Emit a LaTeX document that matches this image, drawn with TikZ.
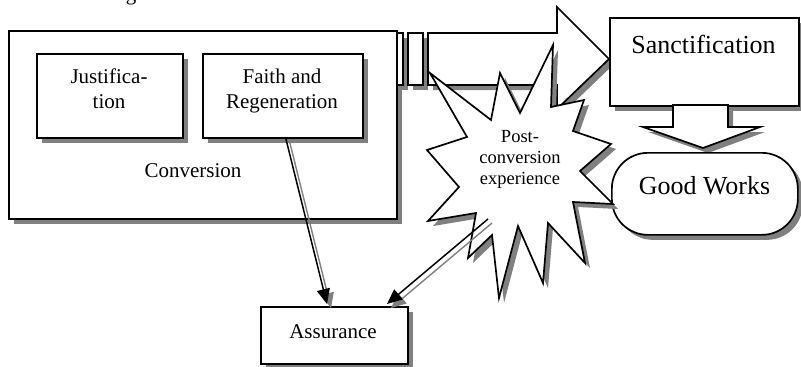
\documentclass[tikz,border=0pt]{standalone}
\usepackage{fontspec}
\setmainfont{Liberation Serif}
\usetikzlibrary{shadows,arrows.meta,calc}
\begin{document}
\begin{tikzpicture}[x=1pt,y=-1pt,
  shp/.style={draw=black, fill=white, line width=1.7pt, line join=miter,
    drop shadow={shadow xshift=5pt, shadow yshift=-5pt, fill=gray, opacity=1}},
  boxn/.style={shp, rectangle, inner sep=0pt, anchor=north west},
  txt/.style={font=\fontsize{21}{25}\selectfont, inner sep=0pt, align=center},
  bigtxt/.style={font=\fontsize{26}{30}\selectfont, inner sep=0pt},
  startxt/.style={font=\fontsize{18.5}{21}\selectfont, inner sep=0pt, align=center},
  conn/.style={line width=1.5pt, -{Triangle[length=15pt,width=13pt]}},
  connshadow/.style={conn, draw=gray, fill=gray, line width=1.4pt},
]
\useasboundingbox (0,0) rectangle (801,367);
\clip (0,0) rectangle (801,367);

% cut-off heading
\node[txt, anchor=base] (heading) at (131,0) {g};

% Conversion group
\node[boxn, minimum width=388pt, minimum height=188pt] (conv) at (8,30) {};
\node[boxn, minimum width=146pt, minimum height=84pt] (just) at (36,53) {};
\node[boxn, minimum width=160pt, minimum height=84pt] (faith) at (202,53) {};
\node[txt] (justtxt) at (109,89) {Justifica-\\tion};
\node[txt] (faithtxt) at (282,90.5) {Faith and\\Regeneration};
\node[txt, anchor=base] (convtxt) at (193,177) {Conversion};

% striped block arrow to Sanctification
\filldraw[shp] (397,33) rectangle (403,85);
\filldraw[shp] (408,33) rectangle (423,85);
\filldraw[shp] (428,33) -- (557,33) -- (557,7) -- (609,59) -- (557,109) -- (557,85) -- (428,85) -- cycle;

% Sanctification
\node[boxn, minimum width=189pt, minimum height=88pt] (sanct) at (609,17) {};
\node[bigtxt, anchor=base] (sancttxt) at (703.5,53) {Sanctification};

% down arrow
\filldraw[shp] (673,105) -- (673,127) -- (643,127) -- (703,148) -- (760,127) -- (728,127) -- (728,105) -- cycle;

% Good Works
\node[boxn, rounded corners=36pt, minimum width=186pt, minimum height=82pt] (good) at (611,152) {};
\node[bigtxt, anchor=base] (goodtxt) at (704.5,194) {Good Works};

% Post-conversion starburst
\filldraw[shp] (430,73) -- (491,120) -- (500,73) -- (520,113) -- (553,45) -- (551,107)
  -- (584,100) -- (573,131) -- (611,144) -- (580,171) -- (613,204) -- (573,202)
  -- (585,263) -- (548,223) -- (543,283) -- (518,226) -- (499,298) -- (492,235)
  -- (468,258) -- (476,213) -- (428,221) -- (459,187) -- (427,150) -- (467,137) -- cycle;
\node[startxt] (post) at (520,159.5) {Post-\\conversion\\experience};

% Assurance
\node[boxn, minimum width=147pt, minimum height=57pt] (assur) at (260,306) {};
\node[txt, anchor=base] (assurtxt) at (333,338) {Assurance};

% connectors to Assurance
\coordinate (f1) at ($(faith.south)+(3,0)$);
\coordinate (s1) at (488,219);
\coordinate (a1) at ($(assur.north west)+(67,-2)$);
\coordinate (a2) at ($(assur.north west)+(127,-2)$);
\draw[connshadow] ($(f1)+(4,4)$) -- ($(a1)+(4,4)$);
\draw[conn] (f1) -- (a1);
\draw[connshadow] ($(s1)+(4,4)$) -- ($(a2)+(4,4)$);
\draw[conn] (s1) -- (a2);
\end{tikzpicture}
\end{document}
